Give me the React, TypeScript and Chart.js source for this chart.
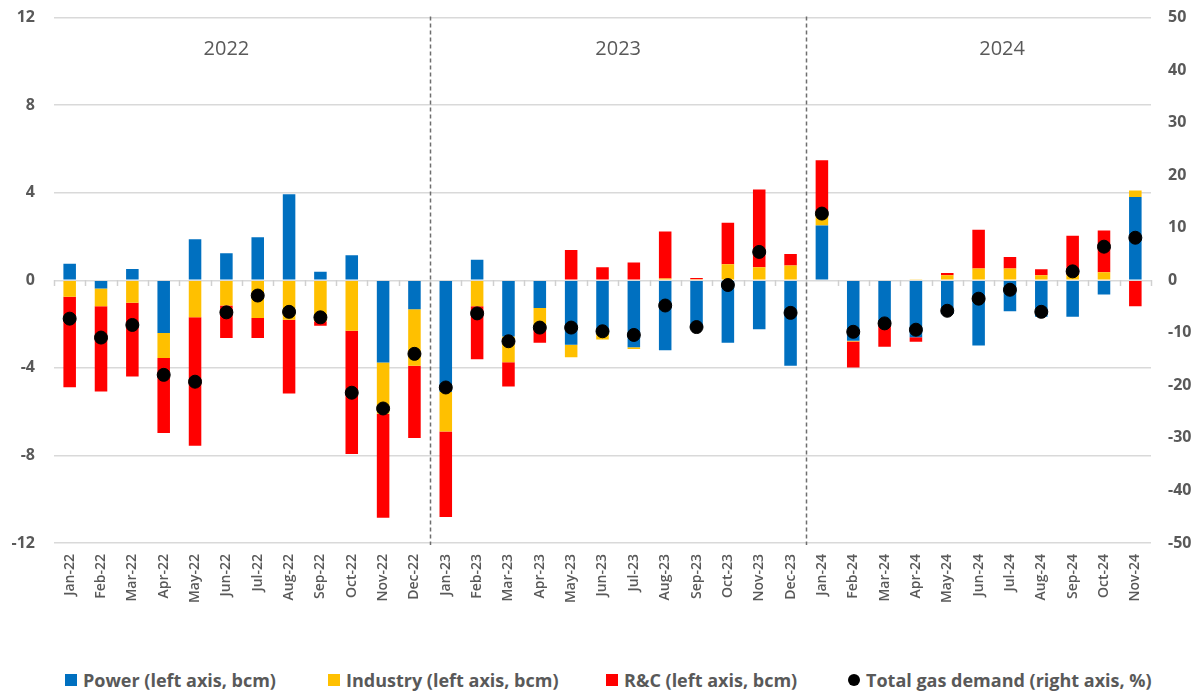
import React, { useEffect, useRef } from 'react';
import { Chart, registerables } from 'chart.js';
Chart.register(...registerables);

const months = [
  'Jan-22','Feb-22','Mar-22','Apr-22','May-22','Jun-22','Jul-22','Aug-22','Sep-22','Oct-22','Nov-22','Dec-22',
  'Jan-23','Feb-23','Mar-23','Apr-23','May-23','Jun-23','Jul-23','Aug-23','Sep-23','Oct-23','Nov-23','Dec-23',
  'Jan-24','Feb-24','Mar-24','Apr-24','May-24','Jun-24','Jul-24','Aug-24','Sep-24','Oct-24','Nov-24',
];

const power = [
  0.76, -0.37, 0.52, -2.41, 1.87, 1.24, 1.97, 3.93, 0.39, 1.14, -3.76, -1.32,
  -5.09, 0.94, -2.57, -1.27, -2.94, -2.41, -3.06, -3.19, -2.2, -2.85, -2.24, -3.9,
  2.5, -2.76, -1.92, -2.6, -1.54, -2.98, -1.41, -1.67, -1.67, -0.65, 3.8,
];

const industry = [
  -0.75, -0.81, -1.02, -1.14, -1.69, -1.15, -1.72, -1.8, -1.87, -2.31, -2.34, -2.58,
  -1.82, -1.19, -1.17, -0.98, -0.57, -0.29, -0.08, 0.08, 0.05, 0.73, 0.6, 0.68,
  0.62, -0.03, -0.05, 0.03, 0.23, 0.54, 0.54, 0.23, 0.25, 0.37, 0.3,
];

const rc = [
  -4.13, -3.9, -3.37, -3.42, -5.87, -1.48, -0.91, -3.37, -0.21, -5.62, -4.75, -3.3,
  -3.9, -2.42, -1.11, -0.6, 1.38, 0.6, 0.81, 2.15, 0.06, 1.9, 3.55, 0.52,
  2.36, -1.19, -1.06, -0.21, 0.1, 1.77, 0.53, 0.28, 1.78, 1.91, -1.19,
];

const totalDemand = [
  -7.3, -10.9, -8.5, -18.0, -19.3, -6.1, -2.9, -6.0, -7.05, -21.4, -24.4, -14.0,
  -20.4, -6.3, -11.6, -9.0, -9.0, -9.7, -10.4, -4.8, -8.9, -0.9, 5.4, -6.2,
  12.7, -9.8, -8.2, -9.4, -5.8, -3.5, -1.8, -6.0, 1.7, 6.4, 8.1,
];

const years = ['2022', '2023', '2024'];

const seriesNames = [
  'Power (left axis, bcm)',
  'Industry (left axis, bcm)',
  'R&C (left axis, bcm)',
  'Total gas demand (right axis, %)',
];

const COLORS = { power: '#0070C0', industry: '#FFC000', rc: '#FF0000', total: '#000000' };
const TEXT = '#595959';
const FONT = '"Open Sans", sans-serif';

const decorPlugin = {
  id: 'decor',
  beforeDatasetsDraw(chart: any) {
    const { ctx, chartArea, scales } = chart;
    const x = scales.x;
    const y = scales.y;
    ctx.save();
    const y0 = Math.round(y.getPixelForValue(0));
    ctx.strokeStyle = '#d0d0d0';
    ctx.lineWidth = 1.5;
    for (let i = 0; i <= months.length; i++) {
      const px = Math.round(x.getPixelForValue(i - 0.5)) + 0.5;
      ctx.beginPath();
      ctx.moveTo(px, y0);
      ctx.lineTo(px, y0 + 6);
      ctx.stroke();
    }
    ctx.strokeStyle = '#6e6e6e';
    ctx.lineWidth = 1.5;
    ctx.setLineDash([4, 3]);
    const seps = [11.5, 23.5];
    for (const s of seps) {
      const px = Math.round(x.getPixelForValue(s)) + 0.5;
      ctx.beginPath();
      ctx.moveTo(px, chartArea.top - 1);
      ctx.lineTo(px, chartArea.bottom + 2);
      ctx.stroke();
    }
    ctx.restore();
  },
  afterDraw(chart: any) {
    const { ctx, scales } = chart;
    const x = scales.x;
    const y = scales.y;
    const anchors = [5, 17.5, 29.75];
    ctx.save();
    ctx.fillStyle = TEXT;
    ctx.font = `20px ${FONT}`;
    ctx.textAlign = 'center';
    ctx.textBaseline = 'middle';
    years.forEach((yr, i) => {
      ctx.fillText(yr, x.getPixelForValue(anchors[i]), y.getPixelForValue(10.55));
    });
    ctx.restore();
  },
};

export default function App() {
  const ref = useRef<HTMLCanvasElement>(null);

  useEffect(() => {
    document.body.style.margin = '0';
    const chart = new Chart(ref.current as HTMLCanvasElement, {
      type: 'bar',
      data: {
        labels: months,
        datasets: [
          {
            type: 'line' as const,
            label: seriesNames[3],
            data: totalDemand,
            yAxisID: 'y1',
            showLine: false,
            pointRadius: 6.5,
            pointHoverRadius: 6.5,
            pointBackgroundColor: COLORS.total,
            pointBorderColor: COLORS.total,
            backgroundColor: COLORS.total,
            borderColor: COLORS.total,
            order: 0,
          },
          {
            label: seriesNames[0],
            data: power,
            backgroundColor: COLORS.power,
            yAxisID: 'y',
            stack: 's',
            order: 1,
          },
          {
            label: seriesNames[1],
            data: industry,
            backgroundColor: COLORS.industry,
            yAxisID: 'y',
            stack: 's',
            order: 1,
          },
          {
            label: seriesNames[2],
            data: rc,
            backgroundColor: COLORS.rc,
            yAxisID: 'y',
            stack: 's',
            order: 1,
          },
        ] as any,
      },
      options: {
        animation: false,
        responsive: true,
        maintainAspectRatio: false,
        layout: { padding: { top: 5, left: 0, right: 0, bottom: 0 } },
        datasets: { bar: { barPercentage: 1, categoryPercentage: 0.4 } },
        plugins: {
          legend: { display: false },
          tooltip: { enabled: false },
        },
        scales: {
          x: {
            stacked: true,
            grid: { display: false, drawTicks: false },
            border: { display: false },
            ticks: {
              autoSkip: false,
              minRotation: 90,
              maxRotation: 90,
              padding: 11,
              color: TEXT,
              font: { family: FONT, size: 14, weight: 600 as any },
            },
            afterFit(scale: any) { scale.height = 97; },
          },
          y: {
            position: 'left',
            stacked: true,
            min: -12,
            max: 12,
            grid: { color: '#d9d9d9', lineWidth: 1.5, drawTicks: false },
            border: { display: false },
            ticks: {
              stepSize: 4,
              padding: 19,
              color: TEXT,
              font: { family: FONT, size: 16, weight: 'bold' as any },
            },
            afterFit(scale: any) { scale.width = 54; },
          },
          y1: {
            position: 'right',
            stacked: false,
            min: -50,
            max: 50,
            grid: { display: false, drawTicks: false },
            border: { display: false },
            ticks: {
              stepSize: 10,
              padding: 17,
              color: TEXT,
              font: { family: FONT, size: 16, weight: 'bold' as any },
            },
            afterFit(scale: any) { scale.width = 53; },
          },
        },
      },
      plugins: [decorPlugin],
    } as any);
    return () => chart.destroy();
  }, []);

  const legendItems = [
    { name: seriesNames[0], color: COLORS.power, circle: false, left: 65 },
    { name: seriesNames[1], color: COLORS.industry, circle: false, left: 328 },
    { name: seriesNames[2], color: COLORS.rc, circle: false, left: 606 },
    { name: seriesNames[3], color: COLORS.total, circle: true, left: 848 },
  ];

  return (
    <div style={{ position: 'absolute', left: 0, top: 0, width: 1204, height: 692, background: '#fff', fontFamily: FONT, overflow: 'hidden' }}>
      <div style={{ position: 'absolute', left: 0, top: -11, width: 1204, height: 651 }}>
        <canvas ref={ref} />
      </div>
      {legendItems.map((it) => (
        <div
          key={it.name}
          style={{
            position: 'absolute',
            left: it.left,
            top: 667,
            height: 26,
            display: 'flex',
            alignItems: 'center',
            whiteSpace: 'nowrap',
            color: TEXT,
            fontSize: 18,
            fontWeight: 700,
          }}
        >
          <span
            style={{
              display: 'inline-block',
              width: 12,
              height: 12,
              background: it.color,
              borderRadius: it.circle ? '50%' : 0,
              marginRight: 6,
            }}
          />
          <span>{it.name}</span>
        </div>
      ))}
    </div>
  );
}
